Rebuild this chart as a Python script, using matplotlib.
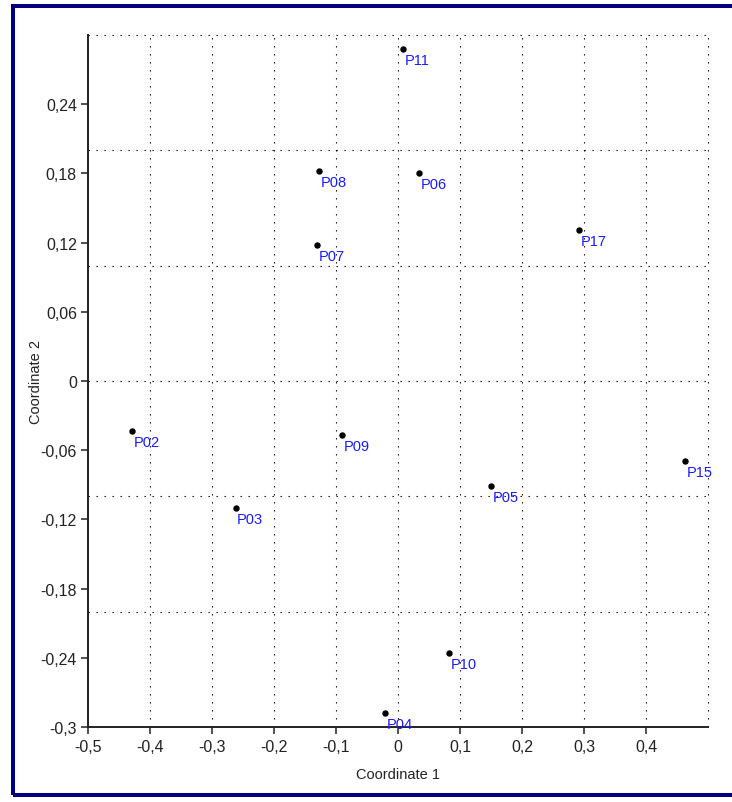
import matplotlib
matplotlib.use("Agg")
import matplotlib.pyplot as plt
from matplotlib.patches import Rectangle

plt.rcParams['font.family'] = ['Liberation Sans', 'DejaVu Sans']

# ---- data ----
labels = ['P02', 'P03', 'P04', 'P05', 'P06', 'P07', 'P08', 'P09', 'P10', 'P11', 'P15', 'P17']
coord1 = [-0.4285, -0.262, -0.0215, 0.1495, 0.034, -0.130, -0.128, -0.0903, 0.083, 0.0076, 0.4634, 0.292]
coord2 = [-0.0435, -0.110, -0.2879, -0.0909, 0.1807, 0.118, 0.182, -0.047, -0.2356, 0.288, -0.0692, 0.1307]

xticks = [-0.5, -0.4, -0.3, -0.2, -0.1, 0.0, 0.1, 0.2, 0.3, 0.4]
xticklabels = ['-0,5', '-0,4', '-0,3', '-0,2', '-0,1', '0', '0,1', '0,2', '0,3', '0,4']
yticks = [-0.3, -0.24, -0.18, -0.12, -0.06, 0.0, 0.06, 0.12, 0.18, 0.24]
yticklabels = ['-0,3', '-0,24', '-0,18', '-0,12', '-0,06', '0', '0,06', '0,12', '0,18', '0,24']
xgrid = [-0.4, -0.3, -0.2, -0.1, 0.0, 0.1, 0.2, 0.3, 0.4, 0.5]
ygrid = [-0.2, -0.1, 0.0, 0.1, 0.2, 0.3]

W, H = 732, 803
fig = plt.figure(figsize=(W / 100, H / 100), dpi=100)
fig.patch.set_facecolor('white')

L, R, T, B = 88, 708, 36, 728
ax = fig.add_axes([L / W, (H - B) / H, (R - L) / W, (B - T) / H])
ax.set_xlim(-0.5, 0.5)
ax.set_ylim(-0.3, 0.3)

dot = (0, (1.2, 6))
for gx in xgrid:
    ax.axvline(gx, color='black', lw=0.8, ls=dot, zorder=1, clip_on=False)
for gy in ygrid:
    ax.axhline(gy, color='black', lw=0.8, ls=dot, zorder=1, clip_on=False)

ax.plot(coord1, coord2, 'o', color='black', markersize=3.6, zorder=3, clip_on=False)
for lab, xv, yv in zip(labels, coord1, coord2):
    ax.annotate(lab, (xv, yv), xytext=(1.2, -3.0), textcoords='offset points',
                ha='left', va='top', color='#1a1aff', fontsize=10.5,
                zorder=5, annotation_clip=False)

for s in ['top', 'right']:
    ax.spines[s].set_visible(False)
for s in ['left', 'bottom']:
    ax.spines[s].set_linewidth(1.4)
    ax.spines[s].set_color('#222222')

ax.set_xticks(xticks)
ax.set_xticklabels(xticklabels)
ax.set_yticks(yticks)
ax.set_yticklabels(yticklabels)
ax.tick_params(axis='both', direction='out', length=5, width=1.1, labelsize=11.5,
               colors='#222222', labelcolor='#222222')
ax.tick_params(axis='x', pad=4)
ax.tick_params(axis='y', pad=3)

ax.set_xlabel('Coordinate 1', fontsize=10.5, color='#222222')
ax.xaxis.label.set_va('center')
ax.xaxis.set_label_coords(0.5, (B - 775) / (B - T))
ax.set_ylabel('Coordinate 2', fontsize=10.5, color='#222222')
ax.yaxis.label.set_va('center')
ax.yaxis.set_label_coords((35.5 - L) / (R - L), 0.5)

# frame border
bx0, by0, bx1, by1 = 13, 6.5, 745, 796
fig.patches.append(Rectangle((bx0 / W, 1 - by1 / H), (bx1 - bx0) / W, (by1 - by0) / H,
                             transform=fig.transFigure, fill=False,
                             edgecolor='#000080', linewidth=2.9, zorder=10))

fig.savefig('out.png', dpi=100)
